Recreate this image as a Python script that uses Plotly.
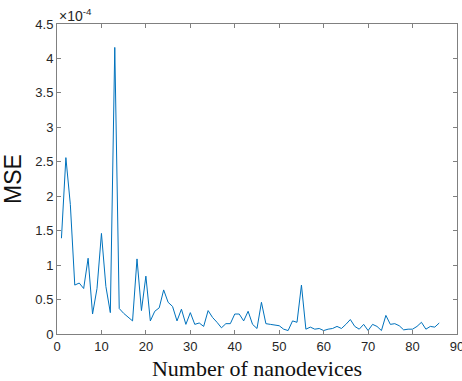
import plotly.graph_objects as go

# Number of nanodevices
n_devices = list(range(1, 87))
# MSE values in units of 1e-4
mse_e4 = [1.39, 2.56, 1.88, 0.71, 0.74, 0.66, 1.10, 0.29, 0.66, 1.46,
          0.69, 0.31, 4.16, 0.37, 0.30, 0.25, 0.19, 1.09, 0.34, 0.84,
          0.19, 0.33, 0.38, 0.64, 0.46, 0.40, 0.19, 0.36, 0.14, 0.31,
          0.14, 0.16, 0.11, 0.34, 0.24, 0.17, 0.09, 0.15, 0.15, 0.29,
          0.29, 0.19, 0.33, 0.14, 0.08, 0.46, 0.15, 0.14, 0.13, 0.12,
          0.07, 0.05, 0.19, 0.17, 0.71, 0.07, 0.10, 0.07, 0.08, 0.05,
          0.07, 0.08, 0.11, 0.08, 0.14, 0.21, 0.11, 0.07, 0.14, 0.05,
          0.14, 0.11, 0.05, 0.27, 0.14, 0.15, 0.12, 0.06, 0.07, 0.07,
          0.11, 0.17, 0.07, 0.11, 0.10, 0.16]

x_ticks = list(range(0, 91, 10))
y_ticks = [0, 0.5, 1, 1.5, 2, 2.5, 3, 3.5, 4, 4.5]
y_ticktext = ["0", "0.5", "1", "1.5", "2", "2.5", "3", "3.5", "4", "4.5"]

fig = go.Figure()
fig.add_trace(go.Scatter(x=n_devices, y=mse_e4, mode="lines",
                         line=dict(color="#0072BD", width=1)))

axis_color = "#808080"
tick_font = dict(family="Liberation Sans, Arial, sans-serif", size=13, color="#262626")

fig.update_layout(
    width=462, height=381,
    margin=dict(l=57, r=5, t=24, b=47),
    plot_bgcolor="white", paper_bgcolor="white",
    showlegend=False,
    xaxis=dict(range=[0, 90], tickvals=x_ticks, ticks="inside", ticklen=4,
               tickcolor=axis_color, showline=True, linecolor=axis_color,
               linewidth=1, mirror="ticks", showgrid=False, zeroline=False,
               tickfont=tick_font, ticklabeloverflow="allow", automargin=False,
               title=dict(text="Number of nanodevices", standoff=8,
                          font=dict(family="Liberation Serif, Times New Roman, serif",
                                    size=22, color="#111111"))),
    yaxis=dict(range=[0, 4.5], tickvals=y_ticks, ticktext=y_ticktext,
               ticks="inside", ticklen=4, tickcolor=axis_color,
               showline=True, linecolor=axis_color, linewidth=1,
               mirror="ticks", showgrid=False, zeroline=False,
               tickfont=tick_font, automargin=False,
               title=dict(text="MSE", standoff=10,
                          font=dict(family="Liberation Sans, Arial, sans-serif",
                                    size=23, color="#111111"))),
    annotations=[dict(text="×10<sup>-4</sup>", xref="paper", yref="paper",
                      x=0, y=1, xanchor="left", yanchor="bottom",
                      showarrow=False, yshift=-2,
                      font=dict(family="Liberation Sans, Arial, sans-serif",
                                size=14, color="#262626"))],
)

fig.write_html("out.html")
